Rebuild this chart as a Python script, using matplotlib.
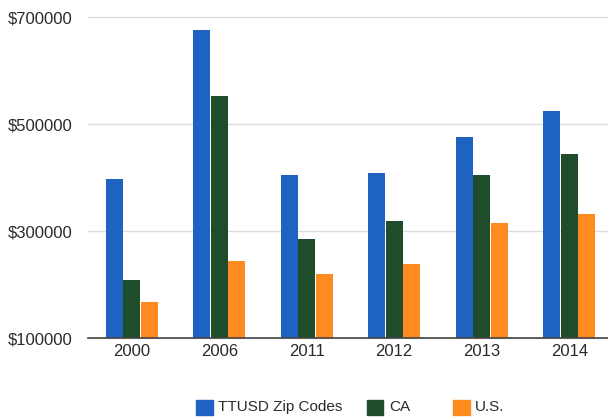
import numpy as np
import matplotlib
matplotlib.use("Agg")
from matplotlib import pyplot as plt
from matplotlib.patches import Rectangle

plt.rcParams['font.family'] = ['Liberation Sans', 'DejaVu Sans']

years = ["2000", "2006", "2011", "2012", "2013", "2014"]
ttusd = [398000, 676000, 405000, 410000, 476000, 525000]
ca = [209000, 553000, 285000, 319000, 405000, 444000]
us = [167000, 245000, 221000, 239000, 315000, 333000]
series_names = ["TTUSD Zip Codes", "CA", "U.S."]
y_ticks = [100000, 300000, 500000, 700000]

colors = ["#1f63c2", "#1f4d2c", "#ff8a1f"]
W, H = 608, 417

fig = plt.figure(figsize=(W / 100, H / 100), dpi=100)
ax = fig.add_axes([88 / W, (H - 338.3) / H, 525 / W, (338.3 - 17.5) / H])

x = np.arange(len(years))
w = 0.2
for i, (vals, c) in enumerate(zip([ttusd, ca, us], colors)):
    ax.bar(x + (i - 1) * w, vals, width=w * 0.97, color=c, zorder=3)

ax.set_xlim(-0.5, len(years) - 0.5)
ax.set_ylim(100000, 700000)
ax.set_yticks(y_ticks)
ax.set_yticklabels([f"${v}" for v in y_ticks])
ax.set_xticks(x)
ax.set_xticklabels(years)
ax.tick_params(axis="both", length=0, labelsize=12, colors="#2a2a2a")
ax.tick_params(axis="y", pad=11.5)
ax.tick_params(axis="x", pad=4)
ax.grid(axis="y", color="#dddddd", linewidth=1, zorder=0)
for gl in ax.get_ygridlines():
    gl.set_clip_on(False)
for s in ["top", "right", "left"]:
    ax.spines[s].set_visible(False)
ax.spines["bottom"].set_color("#444444")
ax.spines["bottom"].set_linewidth(1.2)
ax.spines["bottom"].set_zorder(4)

# legend drawn by hand, google-charts style spacing
leg_x = [196, 367, 453]
leg_y = 407
for lx, name, c in zip(leg_x, series_names, colors):
    fig.patches.append(Rectangle((lx / W, (H - leg_y - 7.5) / H), 16.5 / W, 15 / H,
                                 transform=fig.transFigure, color=c))
    fig.text((lx + 22) / W, (H - leg_y) / H, name, ha="left", va="center",
             fontsize=11, color="#2a2a2a")

fig.savefig("out.png", dpi=100)
